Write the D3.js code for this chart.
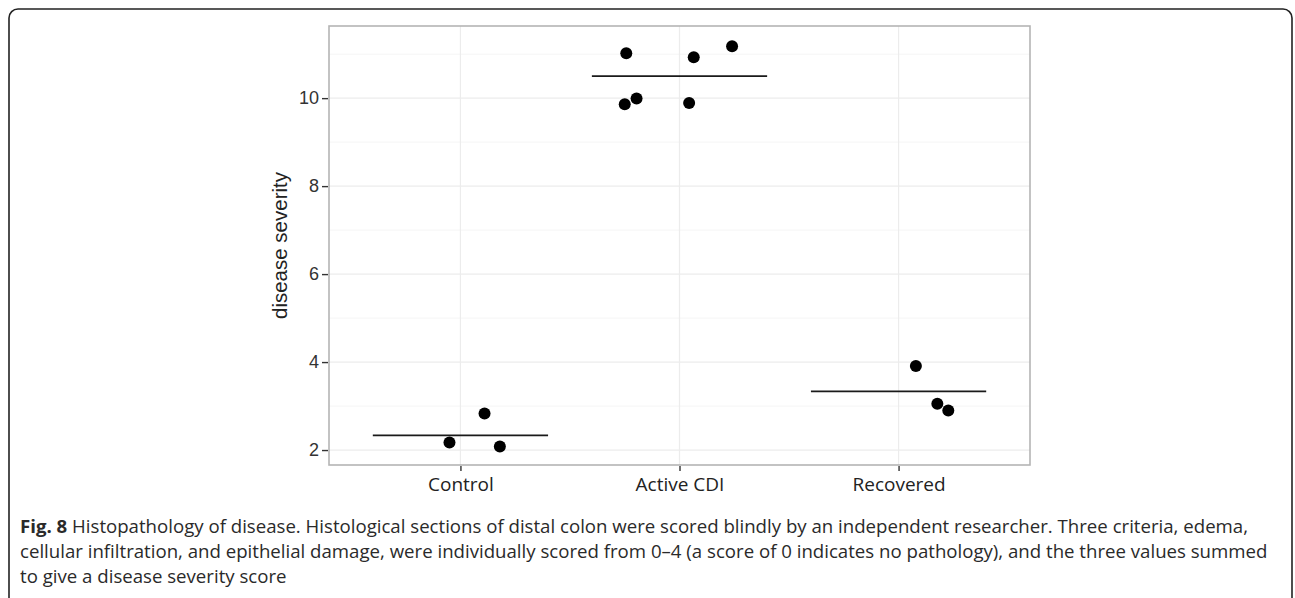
<!DOCTYPE html>
<html>
<head>
<meta charset="utf-8">
<script src="https://cdnjs.cloudflare.com/ajax/libs/d3/7.8.5/d3.min.js"></script>
<style>
  body { margin: 0; background: #fff; }
  svg { display: block; }
</style>
</head>
<body>
<svg id="fig" width="1295" height="598"></svg>
<script>
// groups on the x axis
var groups = ["Control", "Active CDI", "Recovered"];

// one entry per mouse: group, horizontal jitter (in category steps), score
var pointGroup = ["Control", "Control", "Control",
                  "Active CDI", "Active CDI", "Active CDI", "Active CDI", "Active CDI", "Active CDI",
                  "Recovered", "Recovered", "Recovered"];
var pointJitter = [-0.05, 0.11, 0.18,
                   -0.243, 0.065, 0.24, -0.25, -0.196, 0.044,
                   0.079, 0.177, 0.227];
var pointScore = [2.17, 2.83, 2.08,
                  11.02, 10.93, 11.18, 9.86, 9.99, 9.89,
                  3.91, 3.05, 2.90];

// group means (horizontal bars)
var groupMean = [2.333, 10.5, 3.333];

var yTicks = [2, 4, 6, 8, 10];
var yMinor = [3, 5, 7, 9, 11];

var captionBold = "Fig. 8";
var captionLines = [
  " Histopathology of disease. Histological sections of distal colon were scored blindly by an independent researcher. Three criteria, edema,",
  "cellular infiltration, and epithelial damage, were individually scored from 0\u20134 (a score of 0 indicates no pathology), and the three values summed",
  "to give a disease severity score"
];

var svg = d3.select("#fig");

// outer figure frame (bottom runs off the page)
svg.append("rect")
  .attr("x", 9).attr("y", 9)
  .attr("width", 1283).attr("height", 620)
  .attr("rx", 9).attr("ry", 9)
  .attr("fill", "none")
  .attr("stroke", "#222")
  .attr("stroke-width", 1.6);

var panel = {left: 329, right: 1030, top: 26, bottom: 465};

var x = d3.scalePoint()
  .domain(groups)
  .range([panel.left, panel.right])
  .padding(0.6);

var y = d3.scaleLinear()
  .domain([1.66, 11.64])
  .range([panel.bottom, panel.top]);

var g = svg.append("g");

// grid
g.selectAll("line.minor")
  .data(yMinor)
  .enter().append("line")
  .attr("class", "minor")
  .attr("x1", panel.left).attr("x2", panel.right)
  .attr("y1", function(d) { return y(d); })
  .attr("y2", function(d) { return y(d); })
  .attr("stroke", "#f5f5f5")
  .attr("stroke-width", 1);

g.selectAll("line.major")
  .data(yTicks)
  .enter().append("line")
  .attr("class", "major")
  .attr("x1", panel.left).attr("x2", panel.right)
  .attr("y1", function(d) { return y(d); })
  .attr("y2", function(d) { return y(d); })
  .attr("stroke", "#ececec")
  .attr("stroke-width", 1.2);

g.selectAll("line.vgrid")
  .data(groups)
  .enter().append("line")
  .attr("class", "vgrid")
  .attr("y1", panel.top).attr("y2", panel.bottom)
  .attr("x1", function(d) { return x(d); })
  .attr("x2", function(d) { return x(d); })
  .attr("stroke", "#ececec")
  .attr("stroke-width", 1.2);

// mean bars: 0.8 of a category step wide
var halfBar = x.step() * 0.4;
g.selectAll("line.mean")
  .data(groups)
  .enter().append("line")
  .attr("class", "mean")
  .attr("x1", function(d) { return x(d) - halfBar; })
  .attr("x2", function(d) { return x(d) + halfBar; })
  .attr("y1", function(d, i) { return y(groupMean[i]); })
  .attr("y2", function(d, i) { return y(groupMean[i]); })
  .attr("stroke", "#1a1a1a")
  .attr("stroke-width", 1.6);

// points
g.selectAll("circle.pt")
  .data(pointScore)
  .enter().append("circle")
  .attr("class", "pt")
  .attr("cx", function(d, i) { return x(pointGroup[i]) + pointJitter[i] * x.step(); })
  .attr("cy", function(d) { return y(d); })
  .attr("r", 6)
  .attr("fill", "#000");

// panel border
g.append("rect")
  .attr("x", panel.left).attr("y", panel.top)
  .attr("width", panel.right - panel.left)
  .attr("height", panel.bottom - panel.top)
  .attr("fill", "none")
  .attr("stroke", "#b5b5b5")
  .attr("stroke-width", 1.6);

// axes
var yAxis = d3.axisLeft(y).tickValues(yTicks).tickSize(6).tickPadding(3);
var yg = svg.append("g")
  .attr("transform", "translate(" + (panel.left - 1) + ",0)")
  .call(yAxis)
  .attr("font-size", null)
  .attr("font-family", null);
yg.select(".domain").remove();
yg.selectAll(".tick line").attr("stroke", "#333").attr("stroke-width", 1.4);
yg.selectAll(".tick text")
  .attr("fill", "#333")
  .attr("font-family", "'Liberation Sans', Arial, sans-serif")
  .attr("font-size", "18px");

var xAxis = d3.axisBottom(x).tickSize(5).tickPadding(7);
var xg = svg.append("g")
  .attr("transform", "translate(0," + (panel.bottom + 1) + ")")
  .call(xAxis)
  .attr("font-size", null)
  .attr("font-family", null);
xg.select(".domain").remove();
xg.selectAll(".tick line").attr("stroke", "#333").attr("stroke-width", 1.4);
xg.selectAll(".tick text")
  .attr("fill", "#222")
  .attr("font-family", "'Open Sans', sans-serif")
  .attr("font-size", "19px");

// y axis title
svg.append("text")
  .attr("transform", "translate(287," + ((panel.top + panel.bottom) / 2) + ") rotate(-90)")
  .attr("text-anchor", "middle")
  .attr("fill", "#222")
  .attr("font-family", "'Liberation Sans', Arial, sans-serif")
  .attr("font-size", "20.5px")
  .text("disease severity");

// caption
var cap = svg.append("g")
  .attr("font-family", "'Open Sans', sans-serif")
  .attr("fill", "#2a2a2a");

var baseSize = 17;
var lines = cap.selectAll("text")
  .data(captionLines)
  .enter().append("text")
  .attr("x", 20)
  .attr("y", function(d, i) { return 533 + i * 25; })
  .attr("font-size", baseSize + "px");

lines.each(function(d, i) {
  var t = d3.select(this);
  if (i === 0) t.append("tspan").attr("font-weight", "bold").text(captionBold);
  t.append("tspan").text(d);
});

// fit the second (full) line to the width seen in the figure
var natural = lines.nodes()[1].getComputedTextLength();
var fitted = baseSize * 1248 / natural;
lines.attr("font-size", fitted + "px");
</script>
</body>
</html>
